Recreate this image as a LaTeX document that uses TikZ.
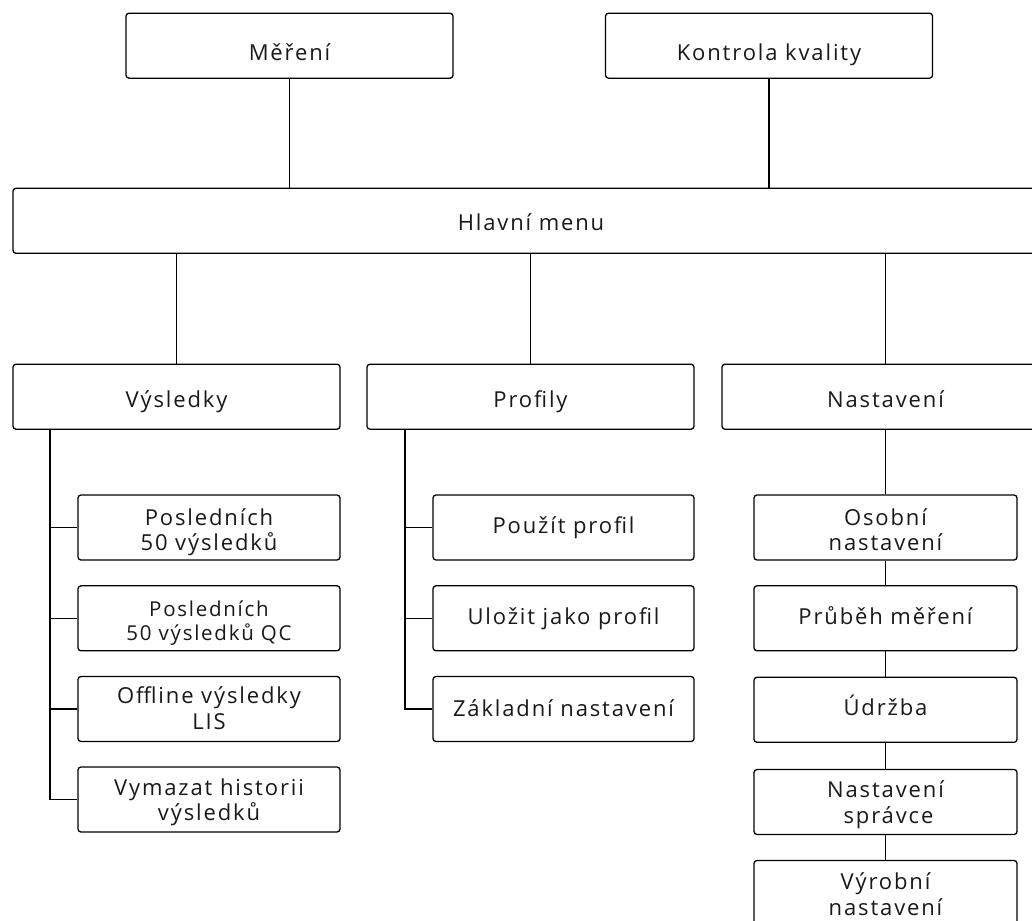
\documentclass[tikz,border=0pt]{standalone}
\usepackage{fontspec}
\setmainfont{Open Sans}[LetterSpace=8.5]
\newcommand{\twol}[2]{\begin{tabular}[t]{@{}c@{}}#1\\#2\end{tabular}}
\begin{document}
\begin{tikzpicture}[x=1pt,y=-1pt,
  box/.style={draw=black, line width=1.3pt, rounded corners=3pt, rectangle,
    minimum height=65pt, inner sep=0pt,
    font=\fontsize{22}{25.8}\selectfont, text=black!90},
  bl/.style={text height=#1, text depth=0pt},
  ml/.style={text height=0pt, text depth=#1},
  topbox/.style={box, minimum width=327pt},
  leftkid/.style={box, minimum width=262pt},
  midkid/.style={box, minimum width=261pt},
  rightkid/.style={box, minimum width=263pt},
  conn/.style={draw=black, line width=1.3pt}]
\clip (0,0) rectangle (1032,920);
\fill[white] (0,0) rectangle (1032,920);

% top level
\node[topbox, bl=29pt] (meas) at (289.5,45.7) {Měření};
\node[topbox, bl=29pt] (qc) at (769,45.7) {Kontrola kvality};
\node[box, bl=18.4pt, minimum width=1036pt] (main) at (531,220.8) {Hlavní menu};

% second level
\node[topbox, bl=21.6pt] (res) at (176.5,396.7) {Výsledky};
\node[topbox, bl=21.6pt] (prof) at (530.5,396.7) {Profily};
\node[topbox, bl=21.6pt] (sett) at (885.5,396.7) {Nastavení};

% results children
\node[leftkid, ml=5pt] (r1) at (209,527.5) {\twol{Posledních}{50 výsledků}};
\node[leftkid, ml=3pt, font=\fontsize{20.5}{24}\selectfont] (r2) at (209,618.3) {\twol{Posledních}{50 výsledků QC}};
\node[leftkid, ml=11pt] (r3) at (209,709) {\twol{Offline výsledky}{LIS}};
\node[leftkid, ml=9pt] (r4) at (209,799.5) {\twol{Vymazat historii}{výsledků}};

% profile children
\node[midkid, bl=12pt] (p1) at (563.5,527.5) {Použít profil};
\node[midkid, bl=13pt] (p2) at (563.5,618.3) {Uložit jako profil};
\node[midkid, bl=14pt] (p3) at (563.5,709) {Základní nastavení};

% settings children
\node[rightkid, ml=5pt] (s1) at (885.5,527.5) {\twol{Osobní}{nastavení}};
\node[rightkid, bl=12pt] (s2) at (885.5,618.3) {Průběh měření};
\node[rightkid, bl=11pt] (s3) at (885.5,709.8) {Údržba};
\node[rightkid, ml=9.4pt] (s4) at (885.5,802) {\twol{Nastavení}{\hspace*{6pt}správce}};
\node[rightkid, ml=7.4pt] (s5) at (885.5,893) {\twol{Výrobní}{nastavení}};

% connectors top
\draw[conn] (meas.south) -- (meas.south |- main.north);
\draw[conn] (qc.south) -- (qc.south |- main.north);
\draw[conn] (main.south -| res.north) -- (res.north);
\draw[conn] (main.south -| prof.north) -- (prof.north);
\draw[conn] (main.south -| sett.north) -- (sett.north);

% results trunk
\coordinate (rt) at (50,429);
\draw[conn] (rt |- res.south) |- (r4.west);
\foreach \n in {r1,r2,r3} \draw[conn] (\n.west) -- (\n.west -| rt);

% profile trunk
\coordinate (pt) at (405,429);
\draw[conn] (pt |- prof.south) |- (p3.west);
\foreach \n in {p1,p2} \draw[conn] (\n.west) -- (\n.west -| pt);

% settings chain
\draw[conn] (sett.south) -- (s1.north);
\draw[conn] (s1.south) -- (s2.north);
\draw[conn] (s2.south) -- (s3.north);
\draw[conn] (s3.south) -- (s4.north);
\draw[conn] (s4.south) -- (s5.north);
\end{tikzpicture}
\end{document}
